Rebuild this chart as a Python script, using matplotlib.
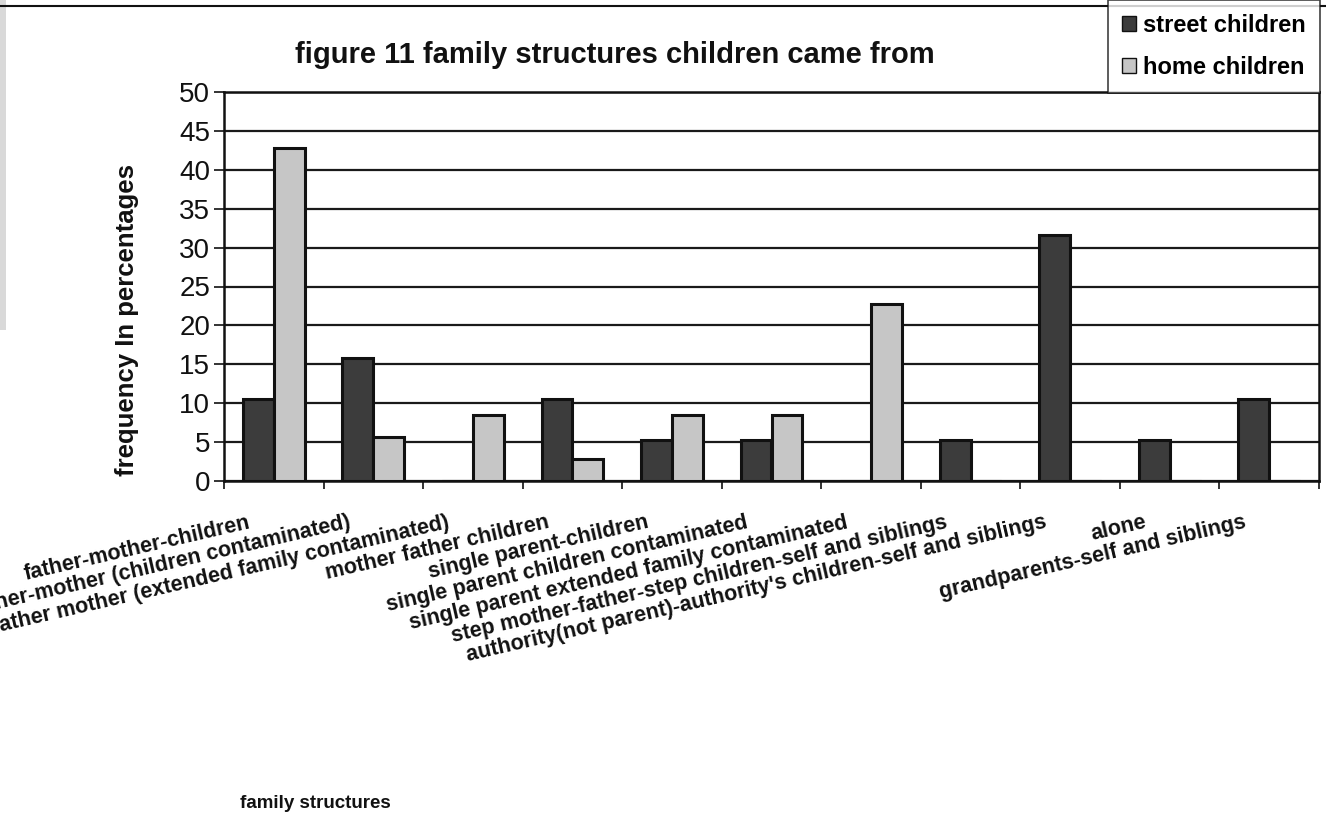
import matplotlib
matplotlib.use("Agg")
import matplotlib.pyplot as plt
import numpy as np
from matplotlib.patches import Patch, Rectangle
from matplotlib.lines import Line2D

plt.rcParams['font.family'] = ['Liberation Sans', 'DejaVu Sans']

categories = [
    "father-mother-children",
    "father-mother (children contaminated)",
    "father mother (extended family contaminated)",
    "mother father children",
    "single parent-children",
    "single parent children contaminated",
    "single parent extended family contaminated",
    "step mother-father-step children-self and siblings",
    "authority(not parent)-authority's children-self and siblings",
    "alone",
    "grandparents-self and siblings",
]
street_children = [10.5, 15.8, 0, 10.5, 5.3, 5.3, 0, 5.3, 31.6, 5.3, 10.5]
home_children = [42.8, 5.7, 8.5, 2.8, 8.5, 8.5, 22.8, 0, 0, 0, 0]
yticks = [0, 5, 10, 15, 20, 25, 30, 35, 40, 45, 50]

W, H = 1326, 817
fig = plt.figure(figsize=(W / 100, H / 100), dpi=100)
fig.patch.set_facecolor('white')

ax = fig.add_axes([224 / W, 1 - 481 / H, (1319 - 224) / W, (481 - 92) / H])

x = np.arange(len(categories))
bw = 0.31
ax.bar(x - bw / 2, street_children, width=bw, color='#3c3c3c', edgecolor='#111111',
       linewidth=2.2, label='street children', zorder=3)
ax.bar(x + bw / 2, home_children, width=bw, color='#c6c6c6', edgecolor='#111111',
       linewidth=2.2, label='home children', zorder=3)

ax.set_xlim(-0.5, len(categories) - 0.5)
ax.set_ylim(0, 50)
ax.set_yticks(yticks)
ax.set_yticklabels([str(v) for v in yticks], fontsize=20)
ax.yaxis.grid(True, color='#1a1a1a', linewidth=1.6, zorder=1)
ax.tick_params(axis='y', direction='out', length=7, width=1.2, pad=3, colors='#111111')

ax.set_xticks(np.arange(-0.5, len(categories), 1.0))
ax.set_xticklabels([])
ax.tick_params(axis='x', direction='out', length=6, width=1.2, colors='#111111')

for s in ax.spines.values():
    s.set_color('#111111')
    s.set_linewidth(1.8)

for i, lab in enumerate(categories):
    ax.text(i - 0.26, -0.08, lab, transform=ax.get_xaxis_transform(),
            ha='right', va='top', rotation=13, rotation_mode='anchor',
            fontsize=15.5, fontweight='bold', color='#111111')

fig.text(127 / W, 1 - 320 / H, 'frequency In percentages', rotation=90,
         ha='center', va='center', fontsize=18.5, fontweight='bold', color='#111111')

fig.text(615 / W, 1 - 55 / H, 'figure 11 family structures children came from',
         ha='center', va='center', fontsize=21, fontweight='bold', color='#111111')
fig.text(315 / W, 1 - 803 / H, 'family structures', ha='center', va='center',
         fontsize=13.5, fontweight='bold', color='#111111')

handles = [Patch(facecolor='#3c3c3c', edgecolor='#111111', linewidth=1),
           Patch(facecolor='#c6c6c6', edgecolor='#111111', linewidth=1)]
leg = fig.legend(handles, ['street children', 'home children'], loc='upper right',
                 bbox_to_anchor=(1320 / W, 1.0), frameon=True, fancybox=False,
                 handlelength=0.6, handleheight=0.6, handletextpad=0.3,
                 labelspacing=0.8, borderpad=0.6, borderaxespad=0,
                 prop={'weight': 'bold', 'size': 17})
leg.get_frame().set_edgecolor('#111111')
leg.get_frame().set_linewidth(1.2)

fig.add_artist(Line2D([0, 1], [1 - 6 / H, 1 - 6 / H], transform=fig.transFigure,
                      color='#111111', linewidth=1.5))
fig.add_artist(Rectangle((0, 1 - 330 / H), 6 / W, 330 / H, transform=fig.transFigure,
                         facecolor='#d9d9d9', edgecolor='none'))

fig.savefig('out.png', dpi=100, facecolor='white')
